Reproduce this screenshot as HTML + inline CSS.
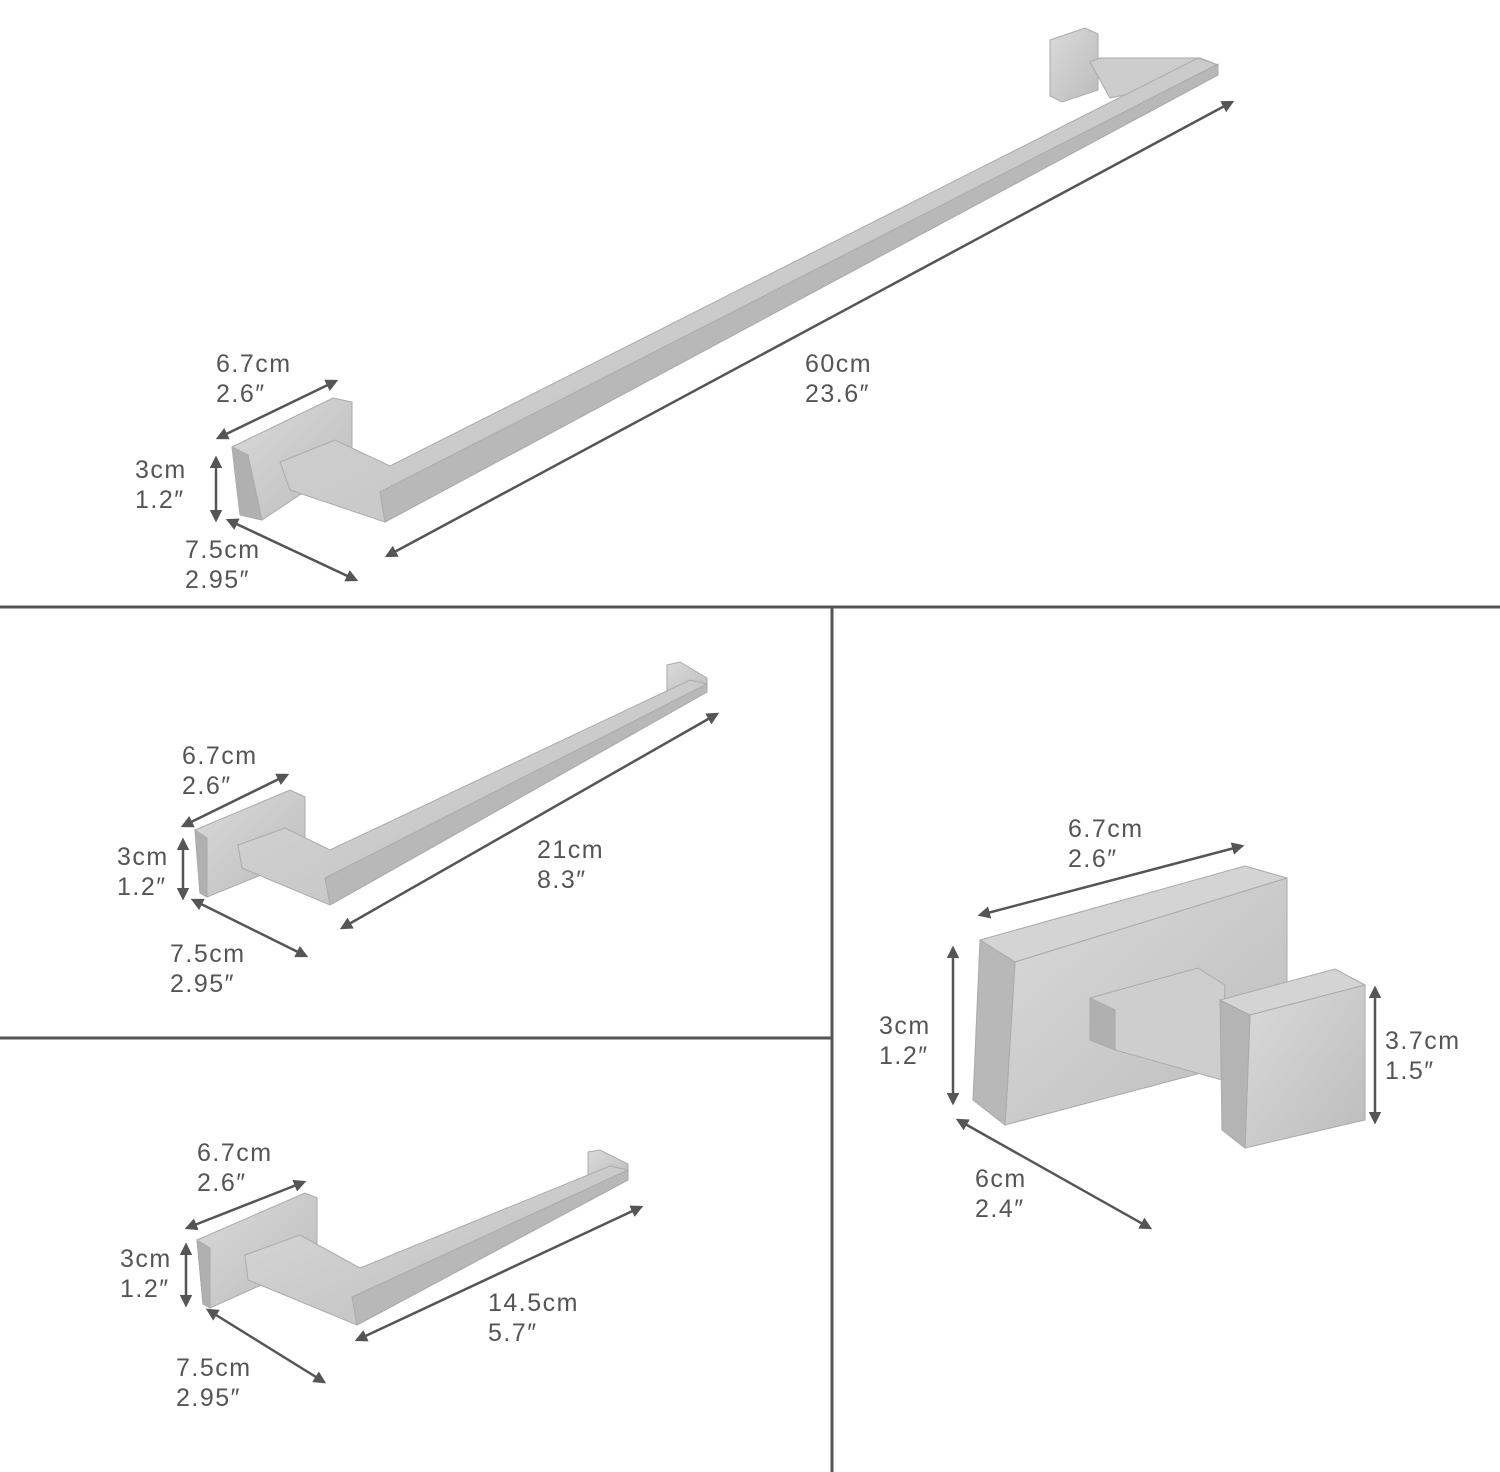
<!DOCTYPE html>
<html><head><meta charset="utf-8"><style>
html,body{margin:0;padding:0;background:#fff}
svg{display:block}
text{font-family:"Liberation Sans",sans-serif;font-size:25px;fill:#555;letter-spacing:1.5px}
</style></head><body>
<svg width="1500" height="1472" viewBox="0 0 1500 1472" xmlns="http://www.w3.org/2000/svg">
<defs>
<marker id="a" viewBox="0 0 10 10" refX="8" refY="5" markerWidth="5" markerHeight="5" orient="auto-start-reverse"><path d="M0,0L10,5L0,10z" fill="#555"/></marker>
<linearGradient id="m" x1="0" y1="0" x2="1" y2="1"><stop offset="0" stop-color="#dadada"/><stop offset="1" stop-color="#bcbcbc"/></linearGradient>
<linearGradient id="d" x1="0" y1="0" x2="0" y2="1"><stop offset="0" stop-color="#c4c4c4"/><stop offset="1" stop-color="#a8a8a8"/></linearGradient>
</defs>
<g stroke="#555" stroke-width="3">
<line x1="0" y1="607" x2="1500" y2="607"/><line x1="832" y1="607" x2="832" y2="1472"/><line x1="0" y1="1038" x2="832" y2="1038"/>
</g>
<!-- top towel bar -->
<g stroke="#aaa" stroke-width="1">
<polygon points="1050,40 1085,28 1098,34 1098,90 1062,102 1050,96" fill="url(#m)"/>
<polygon points="1090,62 1100,58 1200,58 1218,65 1218,75 1110,98" fill="#cdcdcd"/>
<polygon points="232,447 333,398 352,402 352,460 262,520 245,516" fill="url(#m)"/>
<polygon points="232,447 248,455 262,520 240,515" fill="#b0b0b0"/>
<polygon points="280,462 335,440 390,466 1198,58 1218,65 1218,75 385,522 290,490" fill="url(#m)"/>
<polygon points="380,492 1218,64 1218,75 385,522" fill="#b8b8b8"/>
</g>
<!-- middle bar -->
<g stroke="#aaa" stroke-width="1">
<polygon points="667,665 680,662 707,678 707,690 680,700 667,690" fill="url(#m)"/>
<polygon points="195,830 290,790 305,797 305,857 207,897 200,893" fill="url(#m)"/>
<polygon points="195,830 207,838 207,897 200,893" fill="#b0b0b0"/>
<polygon points="238,845 285,828 330,850 690,680 707,684 707,692 330,905 242,868" fill="url(#m)"/>
<polygon points="325,878 707,684 707,692 330,905" fill="#b8b8b8"/>
</g>
<!-- bottom bar -->
<g stroke="#aaa" stroke-width="1">
<polygon points="588,1152 600,1150 628,1164 628,1176 600,1184 588,1174" fill="url(#m)"/>
<polygon points="197,1240 305,1193 317,1198 317,1260 210,1308 203,1304" fill="url(#m)"/>
<polygon points="197,1240 210,1248 210,1308 203,1304" fill="#b0b0b0"/>
<polygon points="245,1255 300,1235 360,1268 610,1166 628,1170 628,1180 357,1325 248,1280" fill="url(#m)"/>
<polygon points="352,1297 628,1170 628,1180 357,1325" fill="#b8b8b8"/>
</g>
<!-- hook -->
<g stroke="#aaa" stroke-width="1">
<polygon points="980,940 1245,866 1287,878 1015,962" fill="#d4d4d4"/>
<polygon points="1015,962 1287,878 1287,1050 1005,1125" fill="url(#m)"/>
<polygon points="980,940 1015,962 1005,1125 973,1100" fill="#b8b8b8"/>
<polygon points="1090,998 1198,968 1225,985 1222,1080 1115,1050" fill="#cecece"/>
<polygon points="1090,998 1115,1010 1115,1050 1090,1040" fill="#b0b0b0"/>
<polygon points="1220,1000 1335,969 1365,985 1250,1015" fill="#d4d4d4"/>
<polygon points="1250,1015 1365,985 1365,1120 1245,1148" fill="url(#m)"/>
<polygon points="1220,1000 1250,1015 1245,1148 1222,1130" fill="#b4b4b4"/>
</g>
<!-- dimension lines -->
<g stroke="#555" stroke-width="2.5" marker-start="url(#a)" marker-end="url(#a)">
<line x1="218" y1="438" x2="336" y2="381"/><line x1="216" y1="458" x2="216" y2="520"/><line x1="228" y1="520" x2="356" y2="580"/><line x1="387" y1="556" x2="1232" y2="102"/>
<line x1="183" y1="826" x2="287" y2="775"/><line x1="183" y1="840" x2="183" y2="898"/><line x1="193" y1="900" x2="306" y2="956"/><line x1="342" y1="928" x2="717" y2="714"/>
<line x1="187" y1="1228" x2="304" y2="1182"/><line x1="186" y1="1245" x2="186" y2="1305"/><line x1="208" y1="1310" x2="324" y2="1382"/><line x1="357" y1="1340" x2="641" y2="1207"/>
<line x1="980" y1="915" x2="1242" y2="846"/><line x1="953" y1="948" x2="953" y2="1103"/><line x1="1375" y1="988" x2="1375" y2="1122"/><line x1="958" y1="1120" x2="1150" y2="1228"/>
</g>
<text x="216" y="372">6.7cm</text><text x="216" y="402">2.6″</text>
<text x="135" y="478">3cm</text><text x="135" y="508">1.2″</text>
<text x="185" y="558">7.5cm</text><text x="185" y="588">2.95″</text>
<text x="805" y="372">60cm</text><text x="805" y="402">23.6″</text>
<text x="182" y="764">6.7cm</text><text x="182" y="794">2.6″</text>
<text x="117" y="865">3cm</text><text x="117" y="895">1.2″</text>
<text x="537" y="858">21cm</text><text x="537" y="888">8.3″</text>
<text x="170" y="962">7.5cm</text><text x="170" y="992">2.95″</text>
<text x="197" y="1161">6.7cm</text><text x="197" y="1191">2.6″</text>
<text x="120" y="1267">3cm</text><text x="120" y="1297">1.2″</text>
<text x="488" y="1311">14.5cm</text><text x="488" y="1341">5.7″</text>
<text x="176" y="1376">7.5cm</text><text x="176" y="1406">2.95″</text>
<text x="1068" y="837">6.7cm</text><text x="1068" y="867">2.6″</text>
<text x="879" y="1034">3cm</text><text x="879" y="1064">1.2″</text>
<text x="1385" y="1049">3.7cm</text><text x="1385" y="1079">1.5″</text>
<text x="975" y="1187">6cm</text><text x="975" y="1217">2.4″</text>
</svg>
</body></html>
